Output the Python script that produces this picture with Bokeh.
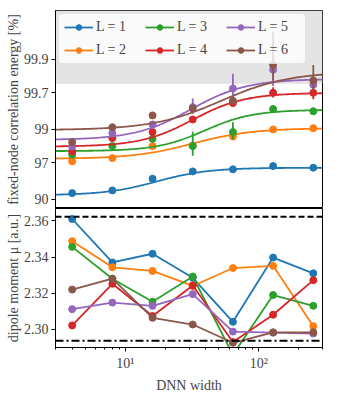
import numpy as np
from bokeh.plotting import figure
from bokeh.models import (Range1d, FixedTicker, BoxAnnotation, Span, Legend,
                          LegendItem, PrintfTickFormatter)
from bokeh.layouts import column
from bokeh.embed import file_html
from bokeh.resources import INLINE

# ---------------- data ----------------
widths = [4, 8, 16, 32, 64, 128, 256]
series_labels = ["L = 1", "L = 2", "L = 3", "L = 4", "L = 5", "L = 6"]
colors = ["#1f77b4", "#ff7f0e", "#2ca02c", "#d62728", "#9467bd", "#8c564b"]

# fixed-node correlation energy [%]
energy_L1 = [91.87, 92.57, 94.94, 96.02, 96.28, 96.66, 96.48]
energy_L2 = [97.14, 97.43, 98.27, 98.31, 98.74, 99.00, 99.04]
energy_L3 = [97.70, 98.27, 98.64, 98.27, 98.91, 99.49, 99.45]
energy_L4 = [97.94, 98.67, 98.91, 99.28, 99.58, 99.70, 99.70]
energy_L5 = [98.25, 98.87, 99.15, 99.52, 99.74, 99.86, 99.77]
energy_L6 = [98.48, 99.07, 99.37, 99.50, 99.61, 99.88, 99.80]

energy_err_L1 = [0.05, 0.05, 0.05, 0.05, 0.05, 0.05, 0.05]
energy_err_L2 = [0.04, 0.04, 0.04, 0.04, 0.04, 0.03, 0.03]
energy_err_L3 = [0.05, 0.04, 0.05, 0.65, 0.30, 0.05, 0.06]
energy_err_L4 = [0.04, 0.04, 0.05, 0.04, 0.05, 0.05, 0.07]
energy_err_L5 = [0.04, 0.04, 0.04, 0.12, 0.10, 0.10, 0.03]
energy_err_L6 = [0.04, 0.03, 0.03, 0.03, 0.05, 0.08, 0.08]

# sigmoidal fit parameters (lower / upper plateau in %, centre in log2(width), scale)
fit_low = [91.29, 97.37, 97.96, 98.24, 98.59, 98.98]
fit_high = [96.47, 99.04, 99.475, 99.70, 99.81, 99.85]
fit_mid = [4.1, 5.0, 5.3, 5.0, 4.95, 5.7]
fit_scale = [0.65, 0.75, 0.6, 0.65, 0.7, 0.85]

# dipole moment mu [a.u.]
dipole_L1 = [2.3610, 2.3370, 2.3418, 2.3285, 2.3042, 2.3397, 2.3310]
dipole_L2 = [2.3487, 2.3343, 2.3323, 2.3240, 2.3339, 2.3351, 2.3018]
dipole_L3 = [2.3456, 2.3280, 2.3153, 2.3292, 2.2860, 2.3190, 2.3130]
dipole_L4 = [2.3022, 2.3252, 2.3074, 2.3243, 2.2930, 2.3081, 2.3272]
dipole_L5 = [2.3112, 2.3148, 2.3130, 2.3195, 2.2988, 2.2982, 2.2977]
dipole_L6 = [2.3220, 2.3280, 2.3064, 2.3027, 2.2926, 2.2984, 2.2984]
dipole_err = [0.0015, 0.0015, 0.0015, 0.0015, 0.0015, 0.0015, 0.0015]

dipole_ref_dashed = 2.3622
dipole_ref_dashdot = 2.2937

energy_ticks = [90, 97, 99, 99.7, 99.9]
energy_tick_labels = ["90", "97", "99", "99.7", "99.9"]
accuracy_band = 99.78
dipole_ticks = [2.30, 2.32, 2.34, 2.36]

energies = [energy_L1, energy_L2, energy_L3, energy_L4, energy_L5, energy_L6]
energy_errs = [energy_err_L1, energy_err_L2, energy_err_L3, energy_err_L4,
               energy_err_L5, energy_err_L6]
dipoles = [dipole_L1, dipole_L2, dipole_L3, dipole_L4, dipole_L5, dipole_L6]


def tr(v):
    # axis transform of the energy panel: -log10(100 - E[%])
    return -np.log10(100.0 - np.asarray(v, dtype=float))


FONT = "Liberation Serif"
x_range = Range1d(3, 300)


def style(p):
    p.grid.visible = False
    p.outline_line_color = "black"
    p.outline_line_width = 1
    p.background_fill_color = "white"
    p.border_fill_color = "white"
    for ax in p.xaxis + p.yaxis:
        ax.major_label_text_font = FONT
        ax.major_label_text_font_size = "14px"
        ax.axis_label_text_font = FONT
        ax.axis_label_text_font_size = "14px"
        ax.axis_label_text_font_style = "normal"
        ax.major_tick_in = 0
        ax.major_tick_out = 4
        ax.minor_tick_in = 0
        ax.minor_tick_out = 2
        ax.axis_line_color = "black"
        ax.major_tick_line_color = "black"
        ax.minor_tick_line_color = "black"


# ---------------- top panel ----------------
p1 = figure(width=325, height=10 + 198, x_axis_type="log", x_range=x_range,
            y_range=Range1d(-1.13, 1.70), output_backend="svg",
            toolbar_location=None, min_border_left=55, min_border_right=3,
            min_border_top=10, min_border_bottom=0)
style(p1)
p1.xaxis.visible = False
p1.yaxis.axis_label = "fixed-node correlation energy [%]"
p1.yaxis.axis_label_standoff = 0
p1.yaxis.major_label_standoff = 3
tick_t = [float(v) for v in tr(energy_ticks)]
p1.yaxis.ticker = FixedTicker(ticks=tick_t, minor_ticks=[])
p1.yaxis.major_label_overrides = {t: s for t, s in zip(tick_t, energy_tick_labels)}

p1.add_layout(BoxAnnotation(bottom=float(tr(accuracy_band)), fill_color="#d9d9d9",
                            fill_alpha=0.7, line_color="#cfcfcf", line_width=1,
                            level="underlay"))

xs = np.array(widths, dtype=float)
xfit = np.logspace(np.log10(3), np.log10(300), 200)
legend_items = []
for i in range(6):
    c = colors[i]
    lo_t, hi_t = tr(fit_low[i]), tr(fit_high[i])
    s = 1.0 / (1.0 + np.exp(-(np.log2(xfit) - fit_mid[i]) / fit_scale[i]))
    yfit = lo_t + (hi_t - lo_t) * s
    ln = p1.line(xfit, yfit, line_color=c, line_width=1.8)
    e = np.array(energies[i]); er = np.array(energy_errs[i])
    p1.segment(x0=xs, y0=tr(e - er), x1=xs, y1=tr(np.minimum(e + er, 99.999)),
               line_color=c, line_width=1.8)
    sc = p1.scatter(xs, tr(e), marker="circle", size=7, fill_color=c, line_color=c)
    legend_items.append(LegendItem(label=series_labels[i], renderers=[ln, sc]))

legend = Legend(items=legend_items, location="top_left", orientation="vertical",
                nrows=2, label_text_font=FONT, label_text_font_size="14px",
                glyph_width=29, glyph_height=14, label_height=14, label_width=42,
                label_standoff=3, spacing=7, padding=5, margin=3,
                background_fill_alpha=0.8, border_line_color="#cccccc",
                border_line_width=1, border_radius=3)
p1.add_layout(legend)

# ---------------- bottom panel ----------------
p2 = figure(width=325, height=142 + 45, x_axis_type="log", x_range=x_range,
            y_range=Range1d(2.29, 2.3668), output_backend="svg",
            toolbar_location=None, min_border_left=55, min_border_right=3,
            min_border_top=0, min_border_bottom=45)
style(p2)
p2.xaxis.axis_label = "DNN width"
p2.xaxis.ticker = FixedTicker(ticks=[10, 100],
                              minor_ticks=[3, 4, 5, 6, 7, 8, 9, 20, 30, 40, 50,
                                           60, 70, 80, 90, 200, 300])
p2.xaxis.major_label_overrides = {10: "10\u00b9", 100: "10\u00b2"}
p2.xaxis.major_label_standoff = 4
p2.xaxis.axis_label_standoff = 4
p2.yaxis.axis_label = "dipole moment \u03bc [a.u.]"
p2.yaxis.ticker = FixedTicker(ticks=dipole_ticks, minor_ticks=[])
p2.yaxis.formatter = PrintfTickFormatter(format="%.2f")
p2.yaxis.axis_label_standoff = 0
p2.yaxis.major_label_standoff = 3

p2.add_layout(Span(location=dipole_ref_dashed, dimension="width",
                   line_color="black", line_width=2, line_dash="6 3"))
p2.add_layout(Span(location=dipole_ref_dashdot, dimension="width",
                   line_color="black", line_width=2, line_dash="8 3 2 3"))

de = np.array(dipole_err)
for i in range(6):
    c = colors[i]
    d = np.array(dipoles[i])
    p2.line(xs, d, line_color=c, line_width=1.8)
    p2.segment(x0=xs, y0=d - de, x1=xs, y1=d + de, line_color=c, line_width=1.8)
    p2.scatter(xs, d, marker="circle", size=7, fill_color=c, line_color=c)

layout = column(p1, p2, spacing=0)
open("out.html", "w").write(file_html(layout, INLINE))
